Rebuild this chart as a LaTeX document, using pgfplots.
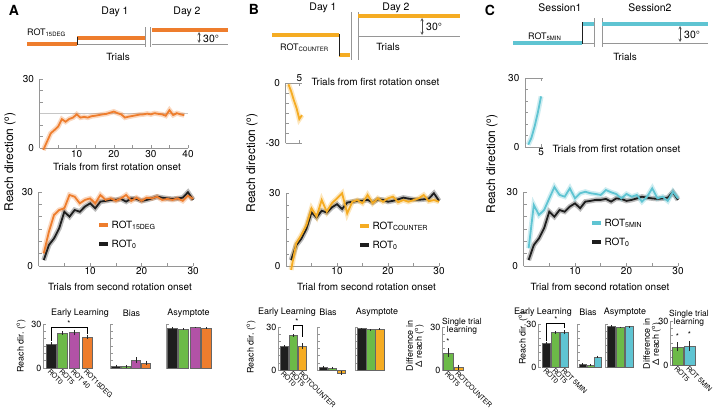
\documentclass[border=0pt]{standalone}
\usepackage{pgfplots}
\pgfplotsset{compat=1.18}
\usepackage{pgfplotstable}
\usepackage{fontspec}
\setmainfont{TeX Gyre Heros}
\newcommand{\fs}[1]{\fontsize{#1}{#1}\selectfont}
\definecolor{orA}{RGB}{238,125,45}
\definecolor{orB}{RGB}{245,172,35}
\definecolor{cyC}{RGB}{95,196,210}
\definecolor{grn}{RGB}{108,186,72}
\definecolor{pur}{RGB}{178,82,166}
\definecolor{blk}{RGB}{30,30,30}
\definecolor{gr}{RGB}{150,150,150}

\pgfplotstableread{
t v
1 -0.7
2 2.9
3 6.5
4 7.9
5 9.4
6 12.6
7 11.5
8 12.7
9 13.3
10 14.7
11 13.3
12 13.6
13 13.3
14 13.9
15 14.1
16 14.4
17 14.7
18 14.9
19 15.4
20 15.9
21 15.2
22 14.7
23 13.3
24 13.7
25 14.0
26 14.3
27 14.6
28 14.7
29 15.0
30 14.7
31 15.2
32 14.9
33 14.7
34 14.1
35 16.5
36 14.4
37 15.2
38 14.7
39 14.3
}\firstA

\pgfplotstableread{
t v
1 -0.5
2 -4
3 -8.5
4 -12.5
5 -18
6 -16
}\firstB

\pgfplotstableread{
t v
1 1
2 4
3 9
4 15
5 22
}\firstC

\pgfplotstableread{
t r0 r15 rc r5
1 2.4 5.1 -1.6 7.2
2 8.5 13.9 9.3 24.7
3 11.2 20.7 12.7 20.7
4 15.3 22.7 16.8 22.7
5 22.0 23.4 23.7 27.4
6 20.0 28.8 20.3 32.0
7 22.7 28.1 27.1 28.8
8 22.0 25.4 22.3 28.1
9 24.1 26.8 25.8 31.5
10 25.4 27.4 27.8 27.4
11 23.4 25.4 29.9 29.5
12 26.1 28.8 21.6 30.1
13 26.4 26.8 26.4 29.5
14 26.8 27.4 27.1 29.2
15 26.8 26.4 25.8 28.8
16 27.2 27.4 29.2 30.8
17 26.1 28.8 25.8 29.9
18 27.4 26.4 27.8 29.2
19 27.2 27.7 26.4 27.4
20 26.4 26.4 27.8 29.2
21 26.8 27.7 28.5 28.1
22 27.4 27.4 26.2 28.8
23 28.1 28.1 27.1 26.1
24 27.7 26.8 26.4 28.1
25 27.4 27.2 27.1 31.5
26 27.2 26.8 27.8 27.4
27 27.4 27.4 29.2 28.1
28 27.7 26.4 26.6 26.4
29 29.9 28.5 27.1 30.1
30 26.8 27.2 26.4 27.4
}\second

\pgfplotsset{
  base/.style={scale only axis, anchor=south west, clip=false,
    axis line style={-, draw=gr, line width=0.6bp},
    every outer x axis line/.append style={-},
    every outer y axis line/.append style={-},
    tick style={draw=gr, line width=0.6bp},
    tick align=inside, major tick length=3bp, minor tick length=3bp,
    tick label style={font=\fs{10}, text=black, inner sep=1.5bp},
    /pgf/number format/assume math mode=true,
    axis y line*=left},
  lineax/.style={base, axis x line*=bottom, xmin=0, xmax=30, ymin=0, ymax=30,
    xtick={10,20,30}, minor xtick={5,15,25}, ytick={0,30}, minor ytick={5,10,15,20,25},
    yticklabel style={xshift=-4bp}},
  barax/.style={base, axis x line*=bottom, x axis line style={draw=none}, xtick style={draw=none},
    ymin=0, ymax=30, ytick={0,30}, minor ytick={5,10,15,20,25}, xmin=0,
    tick label style={font=\fs{9}},
    xticklabel style={rotate=-45, anchor=north west, font=\fs{7}, inner sep=0.2bp}},
  nolab/.style={xtick=\empty, yticklabels={}},
  band/.style={line width=5bp, opacity=0.3, forget plot},
  mean/.style={line width=1.8bp, forget plot},
  bars/.style={ybar, bar shift=0pt, bar width=#1, draw=black!60, line width=0.3bp,
    error bars/y dir=both, error bars/y explicit, error bars/error mark=none,
    error bars/error bar style={black!85, line width=0.6bp}},
  legstyle/.style={legend style={draw=none, fill=none, font=\fs{10}, anchor=north west,
    row sep=7bp, inner sep=0pt, nodes={inner sep=1.5bp}}, legend cell align=left,
    legend image code/.code={\draw[##1] (0bp,0bp) -- (9bp,0bp);}},
}

\begin{document}
\begin{tikzpicture}
\path[use as bounding box] (0bp,0bp) rectangle (714bp,-415bp);

% ---------------- Panel A ----------------
\begin{axis}[lineax, at={(39.6bp,-148.3bp)}, width=148.4bp, height=69.3bp, xmax=40,
  xtick={10,20,30,40}, minor xtick={5,15,25,35}]
\addplot[gray!45, line width=1bp, forget plot] coordinates {(0,15) (40,15)};
\addplot[orA, band] table[x=t,y=v] {\firstA};
\addplot[orA, mean] table[x=t,y=v] {\firstA};
\end{axis}

\begin{axis}[lineax, legstyle, at={(38.6bp,-266bp)}, width=154.5bp, height=74bp,
  legend style={at={(0.378,0.635)}}]
\addplot[blk, band] table[x=t,y=r0] {\second};
\addplot[orA, band] table[x=t,y=r15] {\second};
\addplot[blk, mean] table[x=t,y=r0] {\second};
\addplot[orA, mean] table[x=t,y=r15] {\second};
\addlegendimage{orA, line width=4bp}
\addlegendentry{ROT\textsubscript{15DEG}}
\addlegendimage{blk, line width=4bp}
\addlegendentry{ROT\textsubscript{0}}
\end{axis}

\begin{axis}[barax, at={(43bp,-368bp)}, width=52bp, height=44bp, xmax=52,
  xtick={8,19.5,31,44}, xticklabels={ROT0,ROT5,ROT 40,ROT15DEG}]
\addplot[fill=blk, bars=10bp] coordinates {(8,16.4) +- (0,1.0)};
\addplot[fill=grn, bars=10bp] coordinates {(19.5,23.9) +- (0,1.2)};
\addplot[fill=pur, bars=10bp] coordinates {(31,24.3) +- (0,1.8)};
\addplot[fill=orA, bars=10bp] coordinates {(44,21.3) +- (0,1.5)};
\draw[black, line width=0.8bp] (axis cs:8,18.5) |- (axis cs:44,27.5) -- (axis cs:44,23.5);
\node[font=\fs{8}] at (axis cs:26,30.3) {*};
\end{axis}

\begin{axis}[barax, nolab, at={(110bp,-368bp)}, width=42bp, height=44bp, xmax=42]
\addplot[fill=blk, bars=9bp] coordinates {(6,1.5) +- (0,0.8)};
\addplot[fill=grn, bars=9bp] coordinates {(16,1.0) +- (0,0.8)};
\addplot[fill=pur, bars=9bp] coordinates {(26,5.5) +- (0,2.0)};
\addplot[fill=orA, bars=9bp] coordinates {(36,3.6) +- (0,1.5)};
\end{axis}

\begin{axis}[barax, nolab, at={(166bp,-368bp)}, width=46bp, height=44bp, xmax=46]
\addplot[fill=blk, bars=10bp] coordinates {(6.5,27.5) +- (0,0.5)};
\addplot[fill=grn, bars=10bp] coordinates {(17.5,26.6) +- (0,0.5)};
\addplot[fill=pur, bars=10bp] coordinates {(29,27.7) +- (0,0.4)};
\addplot[fill=orA, bars=10bp] coordinates {(40,27.3) +- (0,0.5)};
\end{axis}

% ---------------- Panel B ----------------
\begin{axis}[base, axis x line=box, xticklabel pos=right, at={(285.7bp,-143bp)},
  width=16.3bp, height=59.7bp, xmin=0, xmax=6, ymin=-30, ymax=0, xtick={5},
  ytick={-30,0}, minor ytick={-25,-20,-15,-10,-5}, yticklabel style={xshift=-4bp}]
\addplot[orB, band] table[x=t,y=v] {\firstB};
\addplot[orB, mean] table[x=t,y=v] {\firstB};
\end{axis}

\begin{axis}[lineax, legstyle, at={(286bp,-266bp)}, width=153bp, height=73bp,
  legend style={at={(0.47,0.63)}}]
\addplot[blk, band] table[x=t,y=r0] {\second};
\addplot[orB, band] table[x=t,y=rc] {\second};
\addplot[blk, mean] table[x=t,y=r0] {\second};
\addplot[orB, mean] table[x=t,y=rc] {\second};
\addlegendimage{orB, line width=4bp}
\addlegendentry{ROT\textsubscript{COUNTER}}
\addlegendimage{blk, line width=4bp}
\addlegendentry{ROT\textsubscript{0}}
\end{axis}

\begin{axis}[barax, at={(278bp,-370bp)}, width=30bp, height=43bp, xmax=30,
  xtick={6,15,24}, xticklabels={ROT0,ROT5,ROTCOUNTER}]
\addplot[fill=blk, bars=8bp] coordinates {(6,16.3) +- (0,1.0)};
\addplot[fill=grn, bars=8bp] coordinates {(15,24.2) +- (0,1.0)};
\addplot[fill=orB, bars=8bp] coordinates {(24,16.7) +- (0,1.8)};
\draw[black, line width=0.8bp] (axis cs:15,27.9) |- (axis cs:24,31.4) -- (axis cs:24,22.8);
\node[font=\fs{8}] at (axis cs:19,34) {*};
\end{axis}

\begin{axis}[barax, nolab, at={(317bp,-370bp)}, width=30bp, height=43bp, xmax=30]
\addplot[fill=blk, bars=8bp] coordinates {(6.5,2.2) +- (0,0.8)};
\addplot[fill=grn, bars=8bp] coordinates {(15,1.5) +- (0,0.9)};
\addplot[fill=orB, bars=8bp] coordinates {(24,-2.0) +- (0,1.2)};
\end{axis}

\begin{axis}[barax, nolab, at={(355bp,-370bp)}, width=30bp, height=43bp, xmax=30]
\addplot[fill=blk, bars=9bp] coordinates {(6.5,28.9) +- (0,0.4)};
\addplot[fill=grn, bars=9bp] coordinates {(15.5,28.2) +- (0,0.4)};
\addplot[fill=orB, bars=9bp] coordinates {(24.5,28.6) +- (0,0.4)};
\end{axis}

\begin{axis}[barax, at={(442bp,-370bp)}, width=25bp, height=43bp, xmax=25,
  xtick={6,16.5}, xticklabels={ROT5,ROTCOUNTER}]
\addplot[fill=grn, bars=9.5bp] coordinates {(6,12.1) +- (0,3.0)};
\addplot[fill=orB, bars=9.5bp] coordinates {(16.5,2.0) +- (0,1.8)};
\node[font=\fs{8}] at (axis cs:6,19.5) {*};
\end{axis}

% ---------------- Panel C ----------------
\begin{axis}[base, axis x line=box, at={(525bp,-147bp)}, width=18bp, height=69bp,
  xmin=0, xmax=5.6, ymin=0, ymax=30, xtick={5}, ytick={0,30},
  minor ytick={5,10,15,20,25}, yticklabel style={xshift=-4bp}]
\addplot[cyC, band] table[x=t,y=v] {\firstC};
\addplot[cyC, mean] table[x=t,y=v] {\firstC};
\end{axis}

\begin{axis}[lineax, legstyle, at={(523.5bp,-266bp)}, width=154.5bp, height=74bp,
  legend style={at={(0.43,0.66)}}]
\addplot[blk, band] table[x=t,y=r0] {\second};
\addplot[cyC, band] table[x=t,y=r5] {\second};
\addplot[blk, mean] table[x=t,y=r0] {\second};
\addplot[cyC, mean] table[x=t,y=r5] {\second};
\addlegendimage{cyC, line width=4bp}
\addlegendentry{ROT\textsubscript{5MIN}}
\addlegendimage{blk, line width=4bp}
\addlegendentry{ROT\textsubscript{0}}
\end{axis}

\begin{axis}[barax, at={(538bp,-367bp)}, width=32bp, height=43bp, xmax=32,
  xtick={8.5,17.5,26.5}, xticklabels={ROT0,ROT5,ROT 5MIN}]
\addplot[fill=blk, bars=8bp] coordinates {(8.5,16.7) +- (0,1.0)};
\addplot[fill=grn, bars=8bp] coordinates {(17.5,24.2) +- (0,1.0)};
\addplot[fill=cyC, bars=8bp] coordinates {(26.5,24.2) +- (0,1.5)};
\draw[black, line width=0.8bp] (axis cs:8.5,18) |- (axis cs:26.5,30.7) -- (axis cs:26.5,27.2);
\node[font=\fs{8}] at (axis cs:18,33) {*};
\end{axis}

\begin{axis}[barax, nolab, at={(577bp,-367bp)}, width=24bp, height=43bp, xmax=24]
\addplot[fill=blk, bars=7.3bp] coordinates {(5.7,2.0) +- (0,0.6)};
\addplot[fill=grn, bars=7.3bp] coordinates {(13.3,1.5) +- (0,0.7)};
\addplot[fill=cyC, bars=7.3bp] coordinates {(20.7,7.2) +- (0,0.7)};
\end{axis}

\begin{axis}[barax, nolab, at={(605bp,-367bp)}, width=29bp, height=43bp, xmax=29]
\addplot[fill=blk, bars=8.5bp] coordinates {(6,28.6) +- (0,0.4)};
\addplot[fill=grn, bars=8.5bp] coordinates {(15,27.8) +- (0,0.4)};
\addplot[fill=cyC, bars=8.5bp] coordinates {(24,28.2) +- (0,0.4)};
\end{axis}

\begin{axis}[barax, at={(670bp,-365bp)}, width=27bp, height=44bp, xmax=27,
  xtick={7.5,19.5}, xticklabels={ROT5,ROT 5MIN}]
\addplot[fill=grn, bars=11bp] coordinates {(7.5,12.5) +- (0,3.0)};
\addplot[fill=cyC, bars=11bp] coordinates {(19.5,13.0) +- (0,3.5)};
\node[font=\fs{8}] at (axis cs:7.5,19.3) {*};
\node[font=\fs{8}] at (axis cs:19.5,20.4) {*};
\end{axis}

% ---------------- schematics and labels ----------------
\begin{scope}[x=1bp,y=-1bp]
\node[font=\bfseries\fs{14}] at (14,10) {A};
\node[font=\bfseries\fs{14}] at (254,9) {B};
\node[font=\bfseries\fs{14}] at (490,10) {C};

% A schematic
\draw[gr, line width=0.8bp] (77,44) -- (145,44);
\draw[orA, line width=3.5bp] (27,44) -- (77,44);
\draw[orA, line width=3.5bp] (77,38) -- (145,38);
\draw[blk, line width=0.8bp] (77,37) -- (77,45);
\draw[gr, line width=0.8bp] (145,27) -- (145,47) (150,27) -- (150,47);
\draw[gr, line width=0.8bp] (152,44) -- (228,44);
\draw[orA, line width=3.5bp] (152,30) -- (228,30);
\draw[black!70, line width=0.5bp, <->, >=stealth] (199,32) -- (199,43);
\node[font=\fs{10.5}, anchor=west, inner sep=1bp] at (202,38.5) {30°};
\node[font=\fs{9}, anchor=base west, inner sep=0pt] at (27,35) {ROT\textsubscript{15DEG}};
\node[font=\fs{10.5}] at (115,12) {Day 1};
\node[font=\fs{10.5}] at (187,12) {Day 2};
\node[font=\fs{10}] at (118,57) {Trials};

% B schematic
\draw[orB, line width=3.5bp] (272,35) -- (339,35);
\draw[orB, line width=3.5bp] (339,55) -- (350,55);
\draw[blk, line width=0.8bp] (339,34) -- (339,56);
\draw[gr, line width=0.8bp] (351,12) -- (351,60) (358,12) -- (358,60);
\draw[gr, line width=0.8bp] (358,36) -- (460,36);
\draw[orB, line width=3.5bp] (358,16) -- (460,16);
\draw[black!70, line width=0.5bp, <->, >=stealth] (422,18) -- (422,35);
\node[font=\fs{10.5}, anchor=west, inner sep=1bp] at (425,27) {30°};
\node[font=\fs{9}, anchor=base west, inner sep=0pt] at (280,50) {ROT\textsubscript{COUNTER}};
\node[font=\fs{10.5}] at (323,8) {Day 1};
\node[font=\fs{10.5}] at (396,8) {Day 2};
\node[font=\fs{10}] at (388,47) {Trials};

% C schematic
\draw[cyC, line width=3.5bp] (513,43) -- (582,43);
\draw[gr, line width=0.8bp] (582,43) -- (594,43);
\draw[cyC, line width=3.5bp] (582,24) -- (594,24);
\draw[blk, line width=0.8bp] (582,22) -- (582,44);
\draw[gr, line width=0.8bp] (594,18) -- (594,47) (602,18) -- (602,47);
\draw[gr, line width=0.8bp] (602,43) -- (708,43);
\draw[cyC, line width=3.5bp] (602,24) -- (708,24);
\draw[black!70, line width=0.5bp, <->, >=stealth] (680,26) -- (680,42);
\node[font=\fs{10.5}, anchor=west, inner sep=1bp] at (683,35) {30°};
\node[font=\fs{9}, anchor=base west, inner sep=0pt] at (528,39) {ROT\textsubscript{5MIN}};
\node[font=\fs{10.5}] at (560,8) {Session1};
\node[font=\fs{10.5}] at (650,8) {Session2};
\node[font=\fs{10}] at (625,57) {Trials};

% axis labels
\node[font=\fs{10}] at (117,167) {Trials from first rotation onset};
\node[font=\fs{10}] at (120,287) {Trials from second rotation onset};
\node[font=\fs{10}, anchor=west] at (308,81.5) {Trials from first rotation onset};
\node[font=\fs{10}] at (366.5,287) {Trial from second rotation onset};
\node[font=\fs{10}, anchor=west] at (549,149) {Trials from first rotation onset};
\node[font=\fs{10}] at (600,287) {Trial from second rotation onset};

\node[font=\fs{12}, rotate=90] at (10,162) {Reach direction (\textsuperscript{o})};
\node[font=\fs{12}, rotate=90] at (252,163) {Reach direction (\textsuperscript{o})};
\node[font=\fs{12}, rotate=90] at (492,164) {Reach direction (\textsuperscript{o})};

\node[font=\fs{9}, rotate=90] at (21,346) {Reach dir. (\textsuperscript{o})};
\node[font=\fs{9}, rotate=90] at (251,347) {Reach dir. (\textsuperscript{o})};
\node[font=\fs{9}, rotate=90] at (523,338) {Reach dir. (\textsuperscript{o})};
\node[font=\fs{9}, rotate=90, align=center] at (415,346) {Difference in\\Δ reach (\textsuperscript{o})};
\node[font=\fs{9}, rotate=90, align=center] at (652,344) {Difference in\\Δ reach (\textsuperscript{o})};

% bar titles
\node[font=\fs{9}] at (80,313) {Early Learning};
\node[font=\fs{9}] at (131.5,313) {Bias};
\node[font=\fs{9}] at (188.5,313) {Asymptote};
\node[font=\fs{9}] at (287,312) {Early Learning};
\node[font=\fs{9}] at (328,312) {Bias};
\node[font=\fs{9}] at (377,312) {Asymptote};
\node[font=\fs{8.5}, align=center] at (462,326) {Single trial\\learning};
\node[font=\fs{9}] at (543,312) {Early Learning};
\node[font=\fs{9}] at (588,312) {Bias};
\node[font=\fs{9}] at (625,312) {Asymptote};
\node[font=\fs{8.5}, align=center] at (689,318.5) {Single trial\\learning};
\end{scope}
\end{tikzpicture}
\end{document}
